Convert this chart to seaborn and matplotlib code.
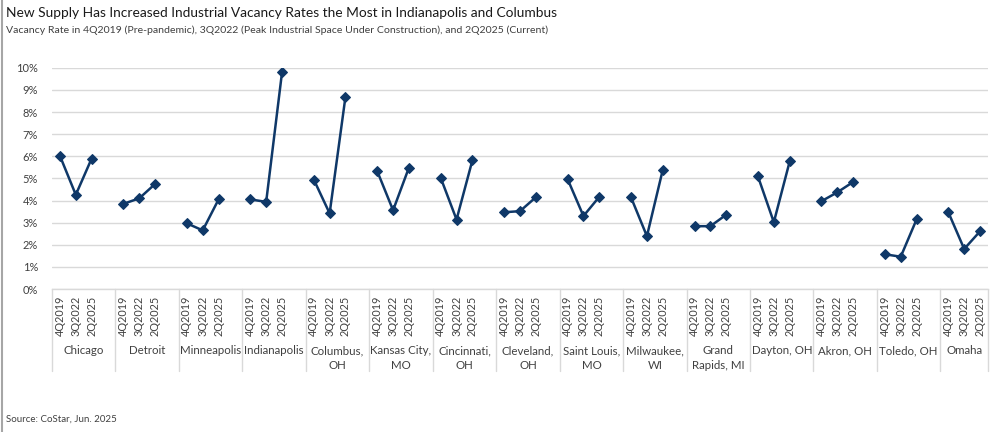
import pandas as pd
import numpy as np
import matplotlib.pyplot as plt
import seaborn as sns
from matplotlib.lines import Line2D
import matplotlib.transforms as mtransforms

# %%
markets = ['Chicago', 'Detroit', 'Minneapolis', 'Indianapolis', 'Columbus,\nOH',
           'Kansas City,\nMO', 'Cincinnati,\nOH', 'Cleveland,\nOH', 'Saint Louis,\nMO',
           'Milwaukee,\nWI', 'Grand\nRapids, MI', 'Dayton, OH', 'Akron, OH',
           'Toledo, OH', 'Omaha']
periods = ['4Q2019', '3Q2022', '2Q2025']

# vacancy rate (%) per market, in period order
vac_4q2019 = [6.02, 3.85, 2.97, 4.05, 4.95, 5.33, 5.03, 3.47, 4.97, 4.14, 2.84, 5.09, 3.97, 1.57, 3.47]
vac_3q2022 = [4.26, 4.10, 2.65, 3.94, 3.42, 3.56, 3.14, 3.52, 3.30, 2.39, 2.84, 3.02, 4.37, 1.46, 1.81]
vac_2q2025 = [5.90, 4.75, 4.05, 9.80, 8.70, 5.49, 5.82, 4.15, 4.17, 5.39, 3.36, 5.77, 4.84, 3.15, 2.61]

# %%
rows = []
for i, m in enumerate(markets):
    for j, vals in enumerate([vac_4q2019, vac_3q2022, vac_2q2025]):
        # 4 slots per market: three periods plus a blank gap
        rows.append({'market': m, 'period': periods[j], 'pos': 4 * i + j, 'rate': vals[i]})
df = pd.DataFrame(rows)

# %%
sns.set_theme(style='white')
plt.rcParams['font.family'] = ['Lato', 'DejaVu Sans']

navy = '#0f3868'
grid_c = '#d9d9d9'
txt_c = '#404040'

fig = plt.figure(figsize=(10, 4.32), dpi=100)
ax = fig.add_axes([0.052, 0.331, 0.936, 0.512])

sns.lineplot(data=df, x='pos', y='rate', units='market', estimator=None,
             color=navy, marker='D', markersize=5.5, markeredgecolor=navy,
             linewidth=1.8, ax=ax, legend=False)

n_slots = 4 * len(markets) - 1
ax.set_xlim(-0.5, n_slots - 0.5)
ax.set_ylim(0, 10)
ax.set_yticks(range(0, 11))
ax.set_yticklabels([f'{v}%' for v in range(0, 11)], fontsize=8, color=txt_c)
ax.yaxis.grid(True, color=grid_c, linewidth=1)
ax.set_axisbelow(True)
ax.tick_params(axis='y', length=0, pad=10)

ax.set_xticks(df['pos'])
ax.set_xticklabels(df['period'], rotation=90, fontsize=7.8, color=txt_c)
ax.tick_params(axis='x', length=0, pad=5)
ax.set_xlabel('')
ax.set_ylabel('')
for s in ['left', 'right', 'top']:
    ax.spines[s].set_visible(False)
ax.spines['bottom'].set_color(grid_c)
ax.spines['bottom'].set_linewidth(1)

# group separators and market labels under the axis
trans = mtransforms.blended_transform_factory(ax.transData, ax.transAxes)
bounds = [4 * i - 0.5 for i in range(len(markets))] + [n_slots - 0.5]
for b in bounds:
    ax.add_line(Line2D([b, b], [0, -0.37], transform=trans, color=grid_c,
                       linewidth=1, clip_on=False))
for i, m in enumerate(markets):
    cx = (bounds[i] + bounds[i + 1]) / 2
    ax.text(cx, -0.255, m, transform=trans, ha='center', va='top',
            fontsize=8.3, color=txt_c, linespacing=1.35)

# %%
fig.text(0.006, 0.969, 'New Supply Has Increased Industrial Vacancy Rates the Most in Indianapolis and Columbus',
         fontsize=9.9, color='#1a1a1a', va='center', ha='left')
fig.text(0.006, 0.930, 'Vacancy Rate in 4Q2019 (Pre-pandemic), 3Q2022 (Peak Industrial Space Under Construction), and 2Q2025 (Current)',
         fontsize=7.55, color=txt_c, va='center', ha='left')
fig.text(0.006, 0.030, 'Source: CoStar, Jun. 2025', fontsize=7, color=txt_c, va='center', ha='left')
fig.add_artist(Line2D([0.0015, 0.0015], [0, 1], transform=fig.transFigure, color='#a6a6a6', linewidth=1.5))

fig.savefig('out.png', dpi=100)
